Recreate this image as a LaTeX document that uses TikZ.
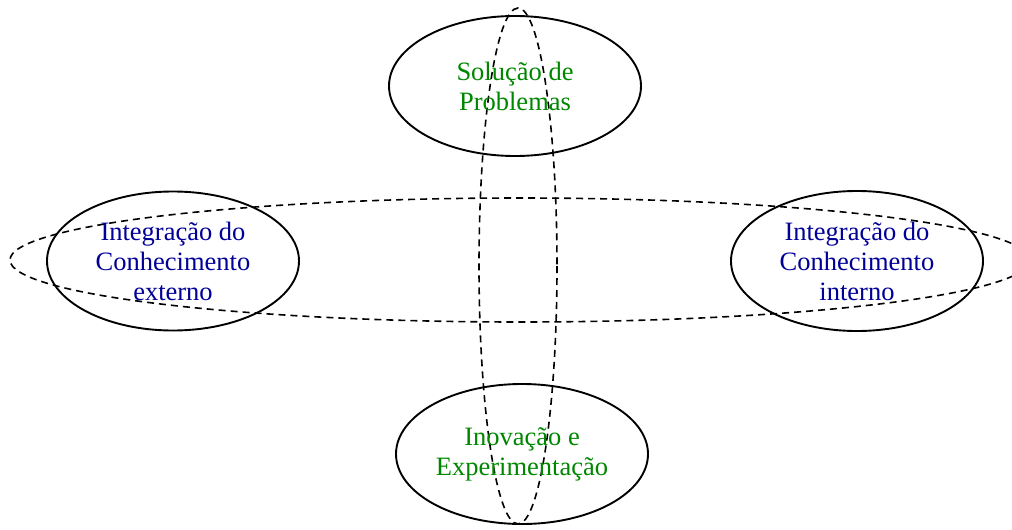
\documentclass[tikz,border=0pt]{standalone}
\usepackage{fontspec}
\setmainfont{Liberation Serif}
\usetikzlibrary{shapes.geometric}
\definecolor{labgreen}{RGB}{0,135,0}
\definecolor{labblue}{RGB}{0,0,150}
\begin{document}
\begin{tikzpicture}[x=1pt,y=-1pt,
  area/.style={ellipse, draw=black, line width=1.9pt, inner sep=0pt,
    minimum width=252pt, minimum height=140pt, align=center,
    font=\fontsize{26.5}{30}\selectfont},
  axis/.style={draw=black, dashed, line width=1.6pt, dash pattern=on 7pt off 5pt}]
\useasboundingbox (0,0) rectangle (1012,530);
% the two dashed axes
\draw[axis] (520,260) ellipse [x radius=510, y radius=62];
\draw[axis] (518,266) ellipse [x radius=39, y radius=258];
% the four areas
\node[area, text=labgreen] (sol) at (515,86) {Solução de\\Problemas};
\node[area, text=labblue, minimum height=139pt] (ext) at (173,261) {Integração do\\Conhecimento\\externo};
\node[area, text=labblue] (int) at (857,261) {Integração do\\Conhecimento\\interno};
\node[area, text=labgreen] (ino) at (522,454) {Inovação e\\Experimentação};
\end{tikzpicture}
\end{document}
